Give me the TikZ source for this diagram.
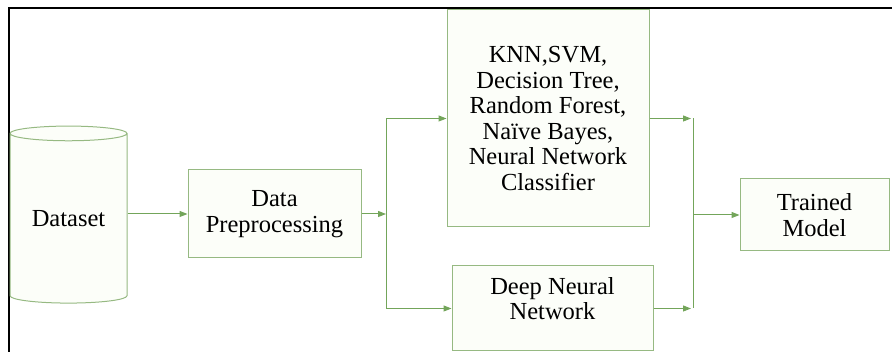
\documentclass[tikz,border=0pt]{standalone}
\usepackage{fontspec}
\setmainfont{Liberation Serif}
\usepackage{xcolor}
\definecolor{verdeborde}{RGB}{150, 185, 130}
\definecolor{verdeflecha}{RGB}{115, 165, 90}
\definecolor{verdefondo}{RGB}{252, 254, 249}
\usetikzlibrary{calc, positioning, shapes.geometric, arrows.meta}

\begin{document}
\begin{tikzpicture}[
  x=1pt, y=-1pt,
  bloque/.style={rectangle, draw=verdeborde, fill=verdefondo, line width=1pt, align=center, inner sep=0pt, font=\rmfamily\fontsize{24.5}{25.5}\selectfont},
  flecha/.style={-{Triangle[length=8pt, width=6pt]}, line width=1pt, verdeflecha},
  linea/.style={line width=1pt, verdeflecha}
]
  \useasboundingbox (0,0) rectangle (892,352);
  \clip (0,0) rectangle (892,352);
  \draw[black, line width=2pt] (8.5,400) |- (950,8.5);

  \node[cylinder, shape border rotate=90, aspect=0.2, draw=verdeborde, fill=verdefondo, line width=1pt,
        minimum width=117pt, minimum height=177pt, inner sep=0pt, font=\rmfamily\fontsize{24.5}{25.5}\selectfont] (data) at (68.5,218.5) {Dataset};

  \node[bloque, minimum width=173pt, minimum height=88pt] (prep) at (274.5,214) {Data\\Preprocessing};

  \node[bloque, minimum width=202pt, minimum height=217pt] (clf) at (548,118.5) {
    KNN,SVM,\\
    Decision Tree,\\
    Random Forest,\\
    Naïve Bayes,\\
    Neural Network\\
    Classifier
  };

  \node[bloque, minimum width=201pt, minimum height=85pt, text depth=20pt] (dnn) at (552.5,308.5) {Deep Neural\\Network};

  \node[bloque, minimum width=149pt, minimum height=72pt] (model) at (814.5,215) {Trained\\Model};

  \coordinate (split) at (386,214);
  \coordinate (merge) at (693,215);

  \draw[flecha] (data.east |- prep.west) -- (prep.west);
  \draw[flecha] (prep.east) -- (split);
  \draw[flecha] (split) |- (clf.west);
  \draw[flecha] (split) |- (dnn.west);

  \draw[linea] (clf.east -| merge) -- (dnn.east -| merge);
  \draw[flecha] (clf.east) -- ($(clf.east -| merge)+(-2,0)$);
  \draw[flecha] (dnn.east) -- ($(dnn.east -| merge)+(-2,0)$);
  \draw[flecha] (merge) -- (model.west);
\end{tikzpicture}
\end{document}
